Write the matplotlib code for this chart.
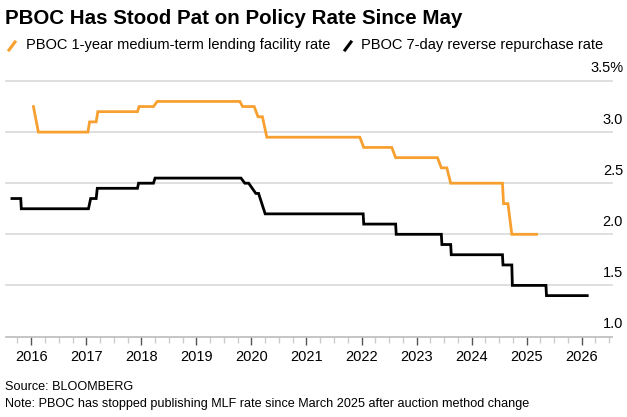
import matplotlib
matplotlib.use('Agg')
import matplotlib.pyplot as plt
from matplotlib.lines import Line2D

plt.rcParams['font.family'] = ['Liberation Sans', 'DejaVu Sans']

# 1-year MLF rate (decimal year, %)
mlf_t = [2016.04, 2016.13, 2017.03, 2017.06, 2017.18, 2017.21, 2017.93, 2017.96,
         2018.22, 2018.29, 2019.79, 2019.84, 2020.05, 2020.12, 2020.20, 2020.28,
         2021.97, 2022.04, 2022.55, 2022.62, 2023.38, 2023.45, 2023.55, 2023.62,
         2024.56, 2024.58, 2024.66, 2024.73, 2025.18]
mlf_v = [3.25, 3.0, 3.0, 3.1, 3.1, 3.2, 3.2, 3.25,
         3.25, 3.3, 3.3, 3.25, 3.25, 3.15, 3.15, 2.95,
         2.95, 2.85, 2.85, 2.75, 2.75, 2.65, 2.65, 2.5,
         2.5, 2.3, 2.3, 2.0, 2.0]

# 7-day reverse repo rate
repo_t = [2015.65, 2015.81, 2015.82, 2017.04, 2017.08, 2017.18, 2017.20, 2017.93,
          2017.95, 2018.22, 2018.25, 2019.81, 2019.88, 2019.95, 2020.08, 2020.13,
          2020.25, 2022.03, 2022.04, 2022.62, 2022.63, 2023.45, 2023.46, 2023.62,
          2023.63, 2024.56, 2024.57, 2024.73, 2024.74, 2025.35, 2025.36, 2026.10]
repo_v = [2.35, 2.35, 2.25, 2.25, 2.35, 2.35, 2.45, 2.45,
          2.5, 2.5, 2.55, 2.55, 2.5, 2.5, 2.4, 2.4,
          2.2, 2.2, 2.1, 2.1, 2.0, 2.0, 1.9, 1.9,
          1.8, 1.8, 1.7, 1.7, 1.5, 1.5, 1.4, 1.4]

years = list(range(2016, 2027))
y_ticks = [1.0, 1.5, 2.0, 2.5, 3.0, 3.5]
y_labels = ['1.0', '1.5', '2.0', '2.5', '3.0', '3.5%']

orange = '#f7a030'

fig = plt.figure(figsize=(6.27, 4.17), dpi=100)
ax = fig.add_axes([6 / 627, 1 - 336.5 / 417, 606 / 627, 255.5 / 417])

ax.plot(mlf_t, mlf_v, color=orange, lw=2.0, solid_joinstyle='miter', zorder=3)
ax.plot(repo_t, repo_v, color='black', lw=2.0, solid_joinstyle='miter', zorder=3)

ax.set_xlim(2015.542, 2026.55)
ax.set_ylim(1.0, 3.5)

for s in ['top', 'right', 'left']:
    ax.spines[s].set_visible(False)
ax.spines['bottom'].set_color('#bbbbbb')
ax.spines['bottom'].set_linewidth(1.2)

for v in y_ticks[1:]:
    ax.axhline(v, color='#dcdcdc', lw=1.3, zorder=1, clip_on=False)

ax.set_yticks([])
ax.set_xticks(years)
ax.set_xticklabels([str(y) for y in years], fontsize=10.5)
ax.set_xticks([y + q / 4 for y in range(2015, 2027) for q in (1, 2, 3)
               if 2015.542 < y + q / 4 < 2026.55], minor=True)
ax.tick_params(axis='x', which='major', length=6, width=1, color='#555555', pad=4)
ax.tick_params(axis='x', which='minor', length=4, width=1, color='#cccccc')

for v, lab in zip(y_ticks, y_labels):
    ax.annotate(lab, xy=(1, v), xycoords=('axes fraction', 'data'),
                xytext=(8, 4), textcoords='offset points',
                ha='right', va='bottom', fontsize=10.5)

fig.text(5 / 627, 1 - 18 / 417, 'PBOC Has Stood Pat on Policy Rate Since May',
         fontsize=14.8, fontweight='bold', va='center', ha='left')

fig.add_artist(Line2D([9 / 627, 15 / 627], [1 - 50 / 417, 1 - 42 / 417],
                      color=orange, lw=2.2, transform=fig.transFigure))
fig.text(26 / 627, 1 - 45.5 / 417, 'PBOC 1-year medium-term lending facility rate',
         fontsize=10.5, va='center', ha='left')
fig.add_artist(Line2D([345 / 627, 351 / 627], [1 - 50 / 417, 1 - 42 / 417],
                      color='black', lw=2.2, transform=fig.transFigure))
fig.text(361 / 627, 1 - 45.5 / 417, 'PBOC 7-day reverse repurchase rate',
         fontsize=10.5, va='center', ha='left')

fig.text(5 / 627, 1 - 387 / 417, 'Source: BLOOMBERG', fontsize=9.1, va='center')
fig.text(5 / 627, 1 - 404 / 417,
         'Note: PBOC has stopped publishing MLF rate since March 2025 after auction method change',
         fontsize=9.1, va='center')

fig.savefig('out.png', dpi=100)
